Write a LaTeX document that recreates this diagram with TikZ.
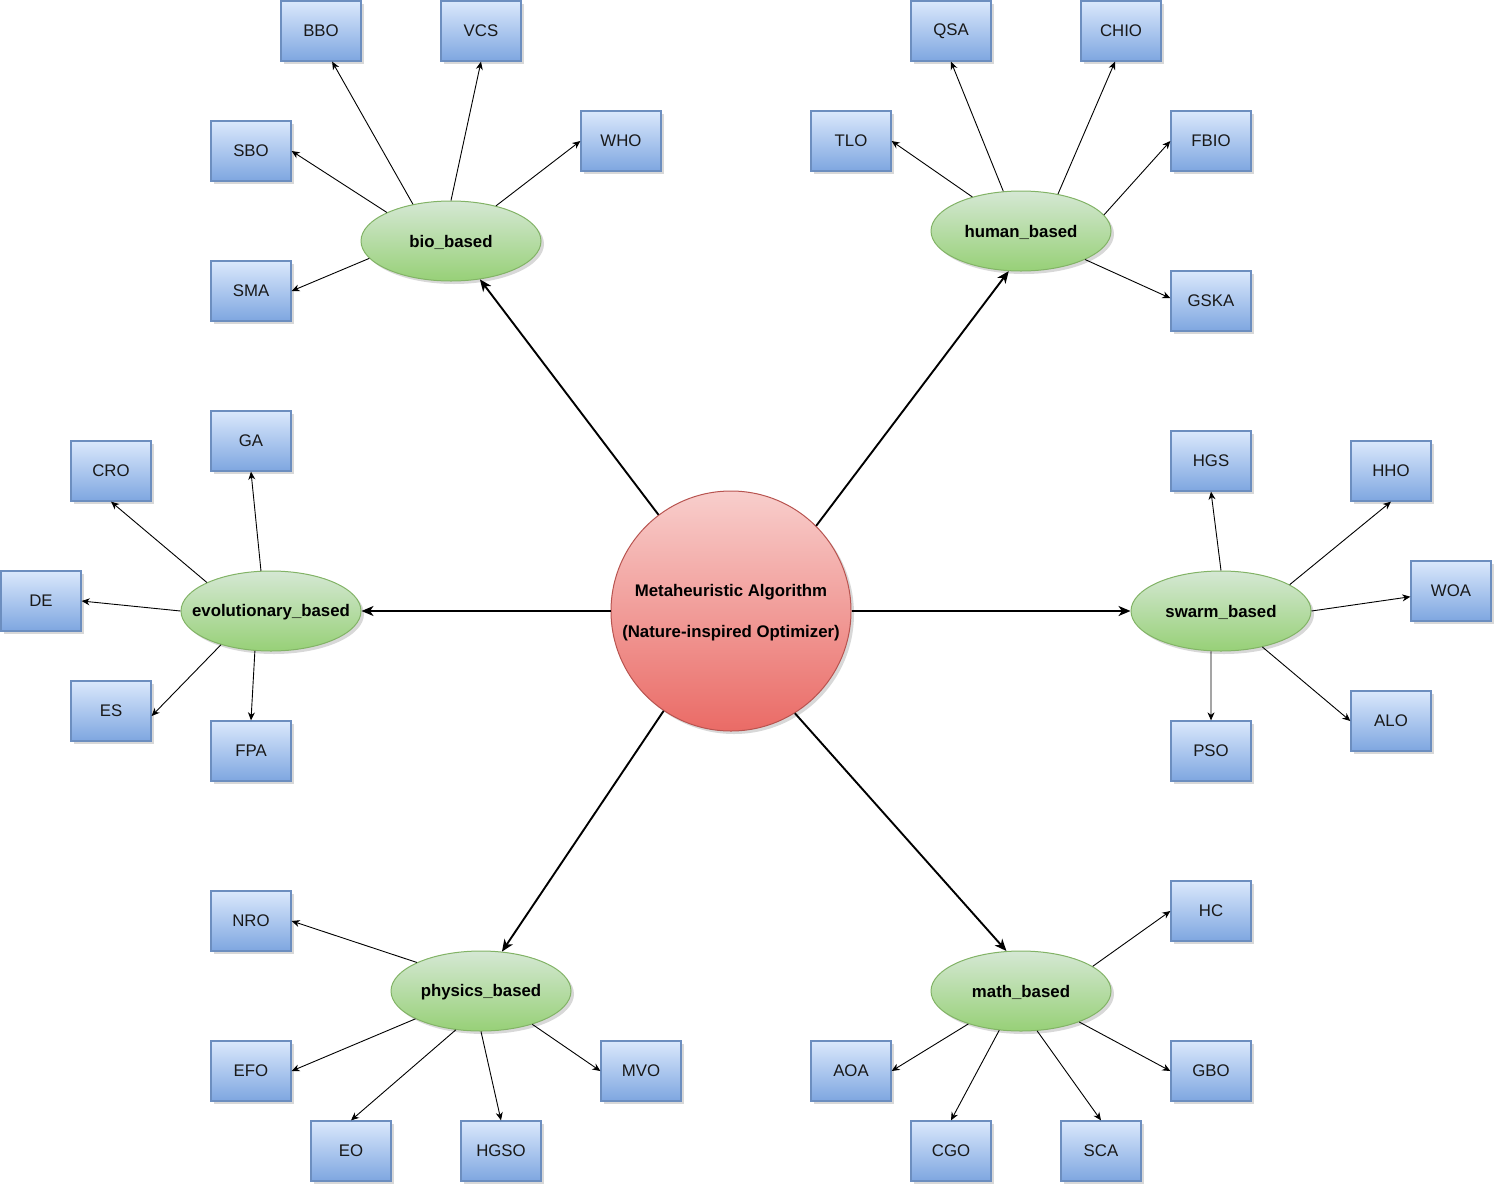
\documentclass[tikz,border=0pt]{standalone}
\usepackage{fontspec}
\setmainfont{Liberation Sans}
\usetikzlibrary{shapes.geometric,arrows.meta,shadows}
\definecolor{boxtop}{HTML}{DAE8FC}
\definecolor{boxbot}{HTML}{7EA6E0}
\definecolor{boxline}{HTML}{6C8EBF}
\definecolor{elltop}{HTML}{D5E8D4}
\definecolor{ellbot}{HTML}{97D077}
\definecolor{ellline}{HTML}{82B366}
\definecolor{cirtop}{HTML}{F8CECC}
\definecolor{cirbot}{HTML}{EA6B66}
\definecolor{cirline}{HTML}{B85450}
\begin{document}
\begin{tikzpicture}[x=1pt,y=-1pt,
  shad/.style={drop shadow={shadow xshift=3pt, shadow yshift=-3pt, opacity=0.28, fill=black!55}},
  box/.style={rectangle, draw=boxline, line width=1.3pt, top color=boxtop, bottom color=boxbot,
    minimum width=80pt, minimum height=60pt, inner sep=0pt,
    font=\fontsize{16.8}{20}\selectfont, text=black!90, shad},
  cat/.style={ellipse, draw=ellline, line width=1pt, top color=elltop, bottom color=ellbot,
    minimum width=180pt, minimum height=80pt, inner sep=0pt, shad},
  catlbl/.style={font=\bfseries\fontsize{16.8}{20}\selectfont, text=black, inner sep=0pt, yshift=-1pt},
  hub/.style={circle, draw=cirline, line width=1pt, top color=cirtop, bottom color=cirbot,
    minimum size=240pt, inner sep=0pt, shad},
  hublbl/.style={align=center, font=\bfseries\fontsize{16.8}{41}\selectfont, text=black, inner sep=0pt, yshift=-2pt},
  sub/.style={-{Stealth[length=8pt,width=7pt,inset=2.5pt]}, line width=0.9pt, black},
  mainedge/.style={-{Stealth[length=12pt,width=10pt,inset=3.5pt]}, line width=1.9pt, black}
]
\useasboundingbox (0,0) rectangle (1502,1192);

% hub
\node[hub, label={[hublbl]center:{Metaheuristic Algorithm\\(Nature-inspired Optimizer)}}] (c) at (731,611) {};

% categories
\node[cat, label={[catlbl]center:bio\_based}] (bio) at (451,241) {};
\node[cat, label={[catlbl]center:human\_based}] (hum) at (1021,231) {};
\node[cat, label={[catlbl]center:evolutionary\_based}] (evo) at (271,611) {};
\node[cat, label={[catlbl]center:swarm\_based}] (swa) at (1221,611) {};
\node[cat, label={[catlbl]center:physics\_based}] (phy) at (481,991) {};
\node[cat, label={[catlbl]center:math\_based}] (mat) at (1021,991) {};

% bio boxes
\node[box] (bbo) at (321,31) {BBO};
\node[box] (vcs) at (481,31) {VCS};
\node[box] (sbo) at (251,151) {SBO};
\node[box] (who) at (621,141) {WHO};
\node[box] (sma) at (251,291) {SMA};
% human boxes
\node[box] (qsa) at (951,31) {QSA};
\node[box] (chio) at (1121,31) {CHIO};
\node[box] (tlo) at (851,141) {TLO};
\node[box] (fbio) at (1211,141) {FBIO};
\node[box] (gska) at (1211,301) {GSKA};
% evolutionary boxes
\node[box] (ga) at (251,441) {GA};
\node[box] (cro) at (111,471) {CRO};
\node[box] (de) at (41,601) {DE};
\node[box] (es) at (111,711) {ES};
\node[box] (fpa) at (251,751) {FPA};
% swarm boxes
\node[box] (hgs) at (1211,461) {HGS};
\node[box] (hho) at (1391,471) {HHO};
\node[box] (woa) at (1451,591) {WOA};
\node[box] (alo) at (1391,721) {ALO};
\node[box] (pso) at (1211,751) {PSO};
% physics boxes
\node[box] (nro) at (251,921) {NRO};
\node[box] (efo) at (251,1071) {EFO};
\node[box] (eo) at (351,1151) {EO};
\node[box] (hgso) at (501,1151) {HGSO};
\node[box] (mvo) at (641,1071) {MVO};
% math boxes
\node[box] (hc) at (1211,911) {HC};
\node[box] (aoa) at (851,1071) {AOA};
\node[box] (cgo) at (951,1151) {CGO};
\node[box] (sca) at (1101,1151) {SCA};
\node[box] (gbo) at (1211,1071) {GBO};

% hub to categories
\draw[mainedge] (c.127) -- (bio.307);
\draw[mainedge] (c.45) -- (hum.253);
\draw[mainedge] (c.west) -- (evo.east);
\draw[mainedge] (c.east) -- (swa.west);
\draw[mainedge] (c.236) -- (phy.62);
\draw[mainedge] (c.302) -- (mat.110);

% bio
\draw[sub] (bio.156) -- (sbo.east);
\draw[sub] (bio.192) -- (sma.east);
\draw[sub] (bio.136) -- (bbo.290);
\draw[sub] (bio.90) -- (vcs.south);
\draw[sub] (bio.38) -- (who.west);
% human
\draw[sub] (hum.145) -- (tlo.east);
\draw[sub] (hum.114) -- (qsa.south);
\draw[sub] (hum.45) -- (chio.259);
\draw[sub] (hum.11) -- (fbio.west);
\draw[sub] (hum.336) -- (gska.176);
% evolutionary
\draw[sub] (evo.104) -- (ga.south);
\draw[sub] (evo.156) -- (cro.south);
\draw[sub] (evo.west) -- (de.east);
\draw[sub] (evo.214) -- (es.353);
\draw[sub] (evo.248) -- (fpa.north);
% swarm
\draw[sub] (swa.90) -- (hgs.south);
\draw[sub] (swa.21) -- (hho.south);
\draw[sub] (swa.east) -- (woa.188);
\draw[sub] (swa.319) -- (alo.west);
\draw[sub] (swa.256) -- (pso.north);
% physics
\draw[sub] (phy.156) -- (nro.east);
\draw[sub] (phy.203) -- (efo.east);
\draw[sub] (phy.237) -- (eo.north);
\draw[sub] (phy.270) -- (hgso.north);
\draw[sub] (phy.327) -- (mvo.west);
% math
\draw[sub] (mat.19) -- (hc.west);
\draw[sub] (mat.212) -- (aoa.east);
\draw[sub] (mat.241) -- (cgo.north);
\draw[sub] (mat.292) -- (sca.north);
\draw[sub] (mat.332) -- (gbo.west);
\end{tikzpicture}
\end{document}
